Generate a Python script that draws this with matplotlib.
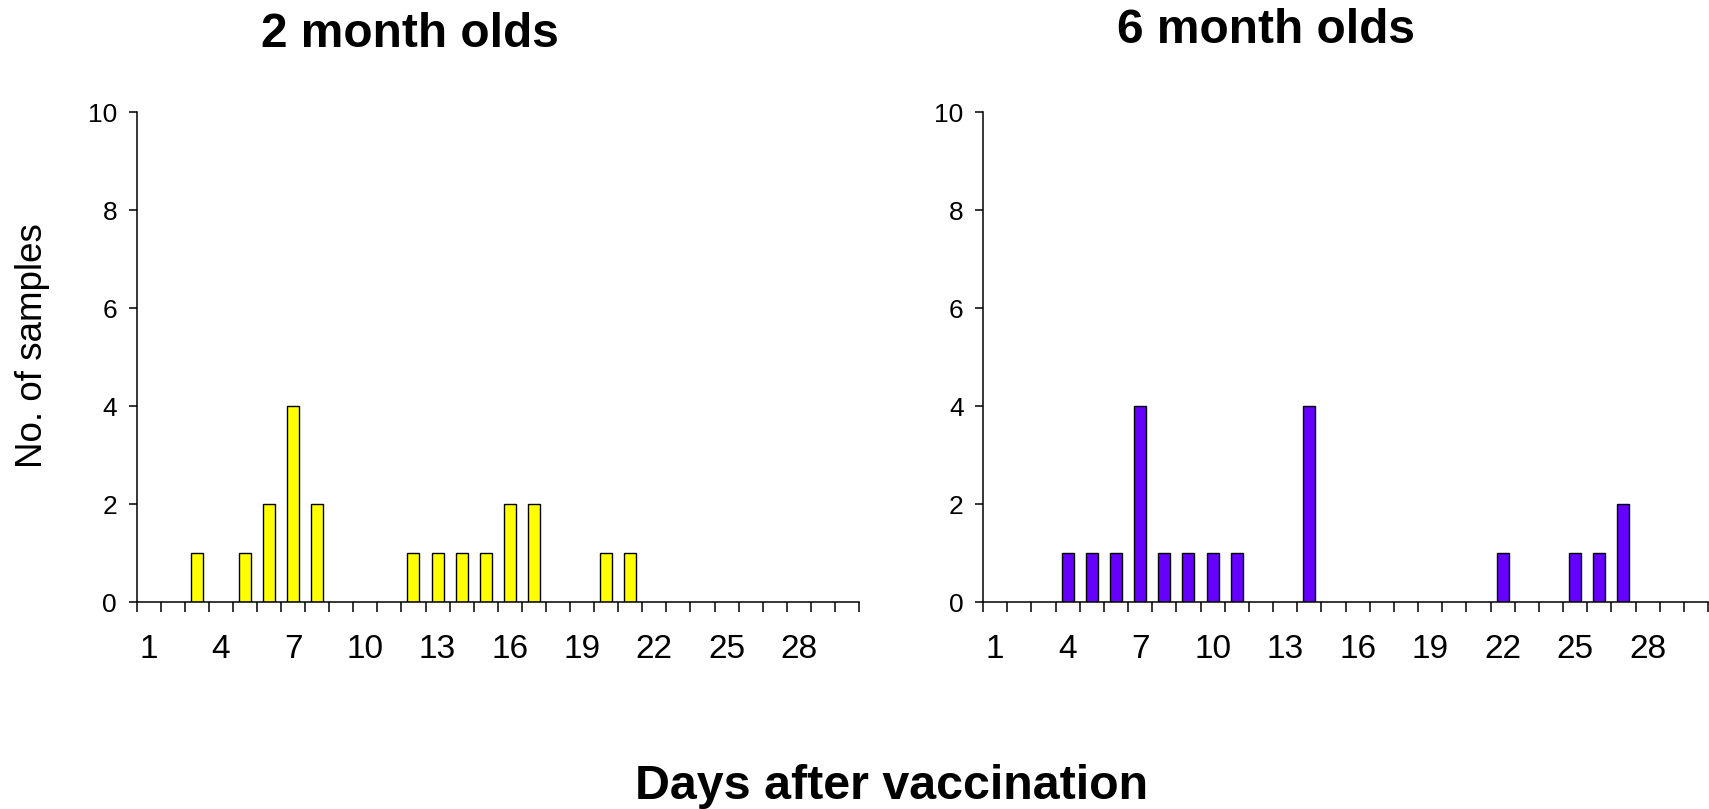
import matplotlib
matplotlib.use("Agg")
import matplotlib.pyplot as plt
import numpy as np

plt.rcParams['font.family'] = ['Liberation Sans', 'DejaVu Sans']

days = list(range(1, 31))
counts_2mo = [0, 0, 1, 0, 1, 2, 4, 2, 0, 0, 0, 1, 1, 1, 1, 2, 2, 0, 0, 1, 1, 0, 0, 0, 0, 0, 0, 0, 0, 0]
counts_6mo = [0, 0, 0, 1, 1, 1, 4, 1, 1, 1, 1, 0, 0, 4, 0, 0, 0, 0, 0, 0, 0, 1, 0, 0, 1, 1, 2, 0, 0, 0]
tick_days = [1, 4, 7, 10, 13, 16, 19, 22, 25, 28]
yticks = [0, 2, 4, 6, 8, 10]
titles = ["2 month olds", "6 month olds"]
colors = ["#FFFF00", "#6600FF"]

W, H = 1709, 809
fig = plt.figure(figsize=(W / 100, H / 100), dpi=100)

def fx(px):
    return px / W

def fy(py):
    return 1 - py / H

axes_px = [(136.5, 859), (983, 1708)]
for (x0, x1), counts, col in zip(axes_px, [counts_2mo, counts_6mo], colors):
    ax = fig.add_axes([fx(x0), fy(602), fx(x1 - x0), (602 - 112) / H])
    d = [x for x, c in zip(days, counts) if c > 0]
    c = [c for c in counts if c > 0]
    ax.bar(d, c, width=0.5, color=col, edgecolor='black', linewidth=1.0, zorder=3)
    ax.set_xlim(0.5, 30.5)
    ax.set_ylim(0, 10)
    for s in ['top', 'right']:
        ax.spines[s].set_visible(False)
    for s in ['left', 'bottom']:
        ax.spines[s].set_linewidth(1.1)
        ax.spines[s].set_zorder(4)
    ax.set_yticks(yticks)
    ax.set_yticklabels([str(v) for v in yticks])
    ax.tick_params(axis='y', direction='out', length=6, width=1.1, pad=8, labelsize=19)
    ax.set_xticks(tick_days)
    ax.set_xticklabels([str(v) for v in tick_days])
    ax.set_xticks(np.arange(0.5, 31, 1.0), minor=True)
    ax.tick_params(axis='x', which='major', length=0, pad=23, labelsize=24)
    ax.tick_params(axis='x', which='minor', direction='out', length=7.5, width=1.1)
    ax.patch.set_alpha(0)

fig.text(fx(410), fy(47), titles[0], ha='center', va='baseline', fontsize=34.5, fontweight='bold')
fig.text(fx(1266), fy(43), titles[1], ha='center', va='baseline', fontsize=34.5, fontweight='bold')
fig.text(fx(892), fy(799), "Days after vaccination", ha='center', va='baseline', fontsize=34.8, fontweight='bold')
fig.text(fx(33), fy(346), "No. of samples", ha='center', va='center', rotation=90, fontsize=26.5)

fig.savefig("out.png", dpi=100)
